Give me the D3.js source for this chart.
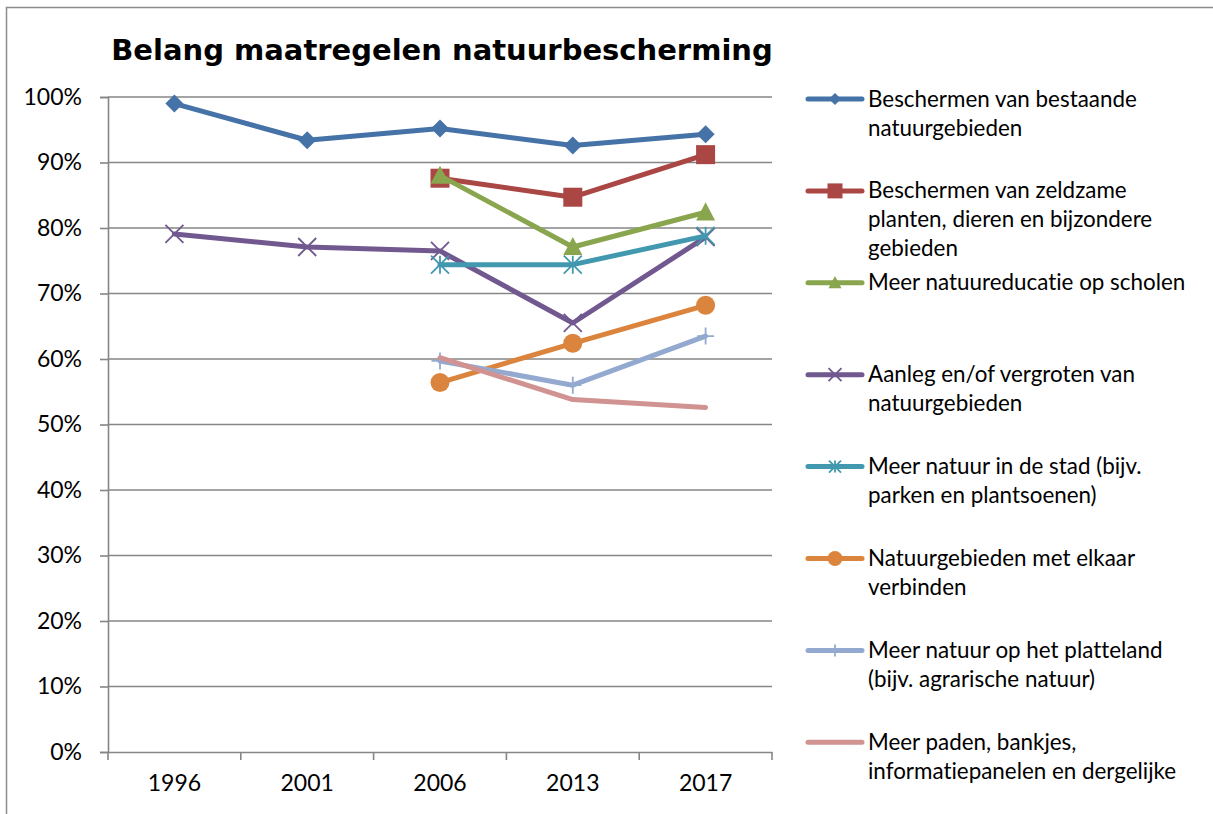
<!DOCTYPE html>
<html>
<head>
<meta charset="utf-8">
<script src="https://cdn.jsdelivr.net/npm/d3@7"></script>
<style>
  html, body { margin: 0; padding: 0; background: #fff; }
  svg { display: block; }
  text { font-variant-ligatures: none; font-feature-settings: "liga" 0, "clig" 0; }
</style>
</head>
<body>
<svg id="chart" width="1213" height="814"></svg>
<script>
// ---- data ----
const title = "Belang maatregelen natuurbescherming";
const categories = ["1996", "2001", "2006", "2013", "2017"];
const yTicks = [0, 0.1, 0.2, 0.3, 0.4, 0.5, 0.6, 0.7, 0.8, 0.9, 1.0];

const seriesNames = [
  "Beschermen van bestaande|natuurgebieden",
  "Beschermen van zeldzame|planten, dieren en bijzondere|gebieden",
  "Meer natuureducatie op scholen",
  "Aanleg en/of vergroten van|natuurgebieden",
  "Meer natuur in de stad (bijv.|parken en plantsoenen)",
  "Natuurgebieden met elkaar|verbinden",
  "Meer natuur op het platteland|(bijv. agrarische natuur)",
  "Meer paden, bankjes,|informatiepanelen en dergelijke"
];
const bestaande   = [0.990, 0.934, 0.952, 0.926, 0.943];
const zeldzame    = [null,  null,  0.876, 0.847, 0.912];
const educatie    = [null,  null,  0.880, 0.771, 0.824];
const aanleg      = [0.791, 0.771, 0.765, 0.655, 0.786];
const stad        = [null,  null,  0.744, 0.744, 0.788];
const verbinden   = [null,  null,  0.564, 0.624, 0.682];
const platteland  = [null,  null,  0.597, 0.560, 0.635];
const paden       = [null,  null,  0.602, 0.538, 0.526];
const seriesValues = [bestaande, zeldzame, educatie, aanleg, stad, verbinden, platteland, paden];
const seriesColors = ["#4572A7", "#AA4643", "#89A54E", "#71588F", "#4198AF", "#DB843D", "#93A9CF", "#D19392"];
const seriesMarkers = ["diamond", "square", "triangle", "x", "asterisk", "circle", "plus", "none"];

// ---- layout ----
const svg = d3.select("#chart");
const plot = { left: 108, right: 772, top: 97, bottom: 752 };
const gridColor = "#868686";
const labelFont = "Lato, 'Open Sans', sans-serif";

// outer frame (clipped by the picture on the right and bottom)
svg.append("rect")
  .attr("x", 6.5).attr("y", 7.5).attr("width", 1300).attr("height", 900)
  .attr("fill", "none").attr("stroke", "#8c8c8c").attr("stroke-width", 1.5);

const x = d3.scaleBand().domain(categories).range([plot.left, plot.right]);
const y = d3.scaleLinear().domain([0, 1]).range([plot.bottom, plot.top]);
const cx = c => x(c) + x.bandwidth() / 2;

// gridlines
svg.append("g").selectAll("line").data(yTicks.filter(t => t > 0)).join("line")
  .attr("x1", plot.left).attr("x2", plot.right)
  .attr("y1", d => y(d)).attr("y2", d => y(d))
  .attr("stroke", gridColor).attr("stroke-width", 1.6);

// y axis
const yAxis = svg.append("g").attr("transform", `translate(${plot.left},0)`)
  .call(d3.axisLeft(y).tickValues(yTicks).tickFormat(d3.format(".0%")).tickSize(8).tickPadding(18));
yAxis.select(".domain").attr("stroke", gridColor).attr("stroke-width", 1.6);
yAxis.selectAll(".tick line").attr("stroke", gridColor).attr("stroke-width", 1.6);
yAxis.selectAll("text").attr("font-family", labelFont).attr("font-size", 23).attr("fill", "#000");

// x axis
const xAxis = svg.append("g").attr("transform", `translate(0,${plot.bottom})`)
  .call(d3.axisBottom(x).tickSize(0).tickPadding(23));
xAxis.select(".domain").attr("stroke", gridColor).attr("stroke-width", 1.6);
xAxis.selectAll("text").attr("font-family", labelFont).attr("font-size", 23).attr("fill", "#000");
const bandEdges = categories.map(c => x(c)).concat([x(categories[categories.length - 1]) + x.bandwidth()]);
xAxis.selectAll("line.edge").data(bandEdges).join("line").attr("class", "edge")
  .attr("x1", d => d).attr("x2", d => d).attr("y1", 0).attr("y2", 8)
  .attr("stroke", gridColor).attr("stroke-width", 1.6);

// title
svg.append("text")
  .attr("x", (plot.left + plot.right) / 2 + 2).attr("y", 60)
  .attr("text-anchor", "middle")
  .attr("font-family", "'DejaVu Sans', Verdana, sans-serif")
  .attr("font-weight", "bold").attr("font-size", 29)
  .attr("fill", "#000").text(title);

// marker drawing
function drawMarker(g, type, color, s) {
  if (type === "diamond") {
    g.append("path").attr("d", d3.symbol(d3.symbolSquare, (s / Math.SQRT2) ** 2)())
      .attr("transform", "rotate(45)").attr("fill", color);
  } else if (type === "square") {
    g.append("path").attr("d", d3.symbol(d3.symbolSquare, s * s)()).attr("fill", color);
  } else if (type === "triangle") {
    const h = s * 0.95, w = s;
    g.append("path").attr("d", `M0,${-h * 0.55}L${w / 2},${h * 0.45}L${-w / 2},${h * 0.45}Z`).attr("fill", color);
  } else if (type === "circle") {
    g.append("circle").attr("r", s / 2).attr("fill", color);
  } else if (type === "x") {
    const r = s / 2;
    g.append("path").attr("d", `M${-r},${-r}L${r},${r}M${-r},${r}L${r},${-r}`)
      .attr("stroke", color).attr("stroke-width", 1.8).attr("fill", "none");
  } else if (type === "asterisk") {
    const r = s / 2;
    g.append("path").attr("d", `M${-r},${-r}L${r},${r}M${-r},${r}L${r},${-r}M0,${-r}L0,${r}`)
      .attr("stroke", color).attr("stroke-width", 1.8).attr("fill", "none");
  } else if (type === "plus") {
    const r = s / 2;
    g.append("path").attr("d", `M${-r},0L${r},0M0,${-r}L0,${r}`)
      .attr("stroke", color).attr("stroke-width", 1.8).attr("fill", "none");
  }
}
const markerSize = { diamond: 18, square: 19, triangle: 19, circle: 19, x: 18, asterisk: 18, plus: 17, none: 0 };
const legendMarkerSize = { diamond: 12, square: 15, triangle: 13, circle: 15, x: 13, asterisk: 12, plus: 12, none: 0 };

// series
const line = d3.line()
  .defined(d => d.v != null)
  .x(d => cx(d.c)).y(d => y(d.v));

seriesValues.forEach((vals, i) => {
  const pts = categories.map((c, j) => ({ c, v: vals[j] }));
  const g = svg.append("g");
  g.append("path").datum(pts).attr("d", line)
    .attr("fill", "none").attr("stroke", seriesColors[i]).attr("stroke-width", 5)
    .attr("stroke-linejoin", "round").attr("stroke-linecap", "round");
  pts.filter(p => p.v != null).forEach(p => {
    const mg = g.append("g").attr("transform", `translate(${cx(p.c)},${y(p.v)})`);
    drawMarker(mg, seriesMarkers[i], seriesColors[i], markerSize[seriesMarkers[i]]);
  });
});

// legend
const legend = { x0: 808, x1: 862, tx: 868, y0: 99, step: 91.9, lineH: 29 };
seriesNames.forEach((name, i) => {
  const yy = legend.y0 + i * legend.step;
  const g = svg.append("g");
  g.append("line").attr("x1", legend.x0).attr("x2", legend.x1).attr("y1", yy).attr("y2", yy)
    .attr("stroke", seriesColors[i]).attr("stroke-width", 5).attr("stroke-linecap", "round");
  const mg = g.append("g").attr("transform", `translate(${(legend.x0 + legend.x1) / 2},${yy})`);
  drawMarker(mg, seriesMarkers[i], seriesColors[i], legendMarkerSize[seriesMarkers[i]]);
  const t = g.append("text").attr("x", legend.tx).attr("y", yy + 7.5)
    .attr("font-family", labelFont).attr("font-size", 22.4).attr("fill", "#000");
  name.split("|").forEach((ln, k) => {
    t.append("tspan").attr("x", legend.tx).attr("dy", k === 0 ? 0 : legend.lineH).text(ln);
  });
});
</script>
</body>
</html>
